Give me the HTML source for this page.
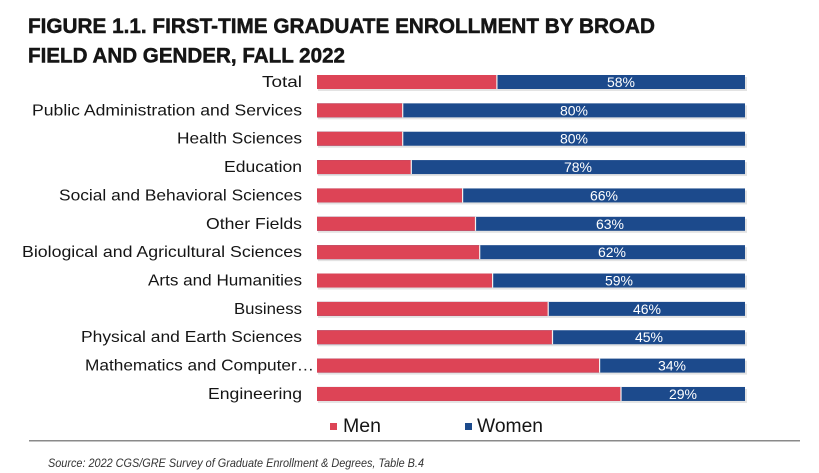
<!DOCTYPE html>
<html>
<head>
<meta charset="utf-8">
<style>
  html,body{margin:0;padding:0;background:#fff;}
  body{width:819px;height:473px;overflow:hidden;}
  svg{display:block;}
  text{font-family:"Liberation Sans",sans-serif;}
</style>
</head>
<body>
<svg width="819" height="473" viewBox="0 0 819 473" xmlns="http://www.w3.org/2000/svg">
  <rect width="819" height="473" fill="#ffffff"/>
  <!-- Title -->
  <text x="28" y="33" font-size="21.5" font-weight="bold" fill="#151515" stroke="#151515" stroke-width="0.5" textLength="627" lengthAdjust="spacingAndGlyphs">FIGURE 1.1. FIRST-TIME GRADUATE ENROLLMENT BY BROAD</text>
  <text x="28" y="62.5" font-size="21.5" font-weight="bold" fill="#151515" stroke="#151515" stroke-width="0.5" textLength="317" lengthAdjust="spacingAndGlyphs">FIELD AND GENDER, FALL 2022</text>

  <g font-size="16" fill="#151515">
    <text x="302" y="87" text-anchor="end" textLength="40" lengthAdjust="spacingAndGlyphs">Total</text>
    <text x="302" y="115.4" text-anchor="end" textLength="270" lengthAdjust="spacingAndGlyphs">Public Administration and Services</text>
    <text x="302" y="143.7" text-anchor="end" textLength="125" lengthAdjust="spacingAndGlyphs">Health Sciences</text>
    <text x="302" y="172.1" text-anchor="end" textLength="78" lengthAdjust="spacingAndGlyphs">Education</text>
    <text x="302" y="200.4" text-anchor="end" textLength="243" lengthAdjust="spacingAndGlyphs">Social and Behavioral Sciences</text>
    <text x="302" y="228.8" text-anchor="end" textLength="96" lengthAdjust="spacingAndGlyphs">Other Fields</text>
    <text x="302" y="257.2" text-anchor="end" textLength="280" lengthAdjust="spacingAndGlyphs">Biological and Agricultural Sciences</text>
    <text x="302" y="285.5" text-anchor="end" textLength="154" lengthAdjust="spacingAndGlyphs">Arts and Humanities</text>
    <text x="302" y="313.9" text-anchor="end" textLength="68" lengthAdjust="spacingAndGlyphs">Business</text>
    <text x="302" y="342.2" text-anchor="end" textLength="221" lengthAdjust="spacingAndGlyphs">Physical and Earth Sciences</text>
    <text x="314" y="370.6" text-anchor="end" textLength="229" lengthAdjust="spacingAndGlyphs">Mathematics and Computer…</text>
    <text x="302" y="398.96" text-anchor="end" textLength="94" lengthAdjust="spacingAndGlyphs">Engineering</text>
  </g>

  <g id="bars">
    <g fill="#d8d8d8" opacity="0.7">
      <rect x="318" y="77" width="429" height="14"/>
      <rect x="318" y="105.36" width="429" height="14"/>
      <rect x="318" y="133.72" width="429" height="14"/>
      <rect x="318" y="162.08" width="429" height="14"/>
      <rect x="318" y="190.44" width="429" height="14"/>
      <rect x="318" y="218.8" width="429" height="14"/>
      <rect x="318" y="247.16" width="429" height="14"/>
      <rect x="318" y="275.52" width="429" height="14"/>
      <rect x="318" y="303.88" width="429" height="14"/>
      <rect x="318" y="332.24" width="429" height="14"/>
      <rect x="318" y="360.6" width="429" height="14"/>
      <rect x="318" y="388.96" width="429" height="14"/>
    </g>
    <g fill="#1c4a8c">
      <rect x="317" y="75" width="428" height="14"/>
      <rect x="317" y="103.36" width="428" height="14"/>
      <rect x="317" y="131.72" width="428" height="14"/>
      <rect x="317" y="160.08" width="428" height="14"/>
      <rect x="317" y="188.44" width="428" height="14"/>
      <rect x="317" y="216.8" width="428" height="14"/>
      <rect x="317" y="245.16" width="428" height="14"/>
      <rect x="317" y="273.52" width="428" height="14"/>
      <rect x="317" y="301.88" width="428" height="14"/>
      <rect x="317" y="330.24" width="428" height="14"/>
      <rect x="317" y="358.6" width="428" height="14"/>
      <rect x="317" y="386.96" width="428" height="14"/>
    </g>
    <g fill="#dd4456">
      <rect x="317" y="75" width="179.8" height="14"/>
      <rect x="317" y="103.36" width="85.6" height="14"/>
      <rect x="317" y="131.72" width="85.6" height="14"/>
      <rect x="317" y="160.08" width="94.2" height="14"/>
      <rect x="317" y="188.44" width="145.5" height="14"/>
      <rect x="317" y="216.8" width="158.4" height="14"/>
      <rect x="317" y="245.16" width="162.6" height="14"/>
      <rect x="317" y="273.52" width="175.5" height="14"/>
      <rect x="317" y="301.88" width="231.1" height="14"/>
      <rect x="317" y="330.24" width="235.4" height="14"/>
      <rect x="317" y="358.6" width="282.5" height="14"/>
      <rect x="317" y="386.96" width="303.9" height="14"/>
    </g>
    <g fill="#f2f2f2">
      <rect x="496.3" y="75" width="1.2" height="14"/>
      <rect x="402.1" y="103.36" width="1.2" height="14"/>
      <rect x="402.1" y="131.72" width="1.2" height="14"/>
      <rect x="410.7" y="160.08" width="1.2" height="14"/>
      <rect x="462" y="188.44" width="1.2" height="14"/>
      <rect x="474.9" y="216.8" width="1.2" height="14"/>
      <rect x="479.1" y="245.16" width="1.2" height="14"/>
      <rect x="492" y="273.52" width="1.2" height="14"/>
      <rect x="547.6" y="301.88" width="1.2" height="14"/>
      <rect x="551.9" y="330.24" width="1.2" height="14"/>
      <rect x="599" y="358.6" width="1.2" height="14"/>
      <rect x="620.4" y="386.96" width="1.2" height="14"/>
    </g>
  </g>

  <g font-size="14" fill="#ffffff" text-anchor="middle">
    <text x="621" y="87">58%</text>
    <text x="574" y="115.4">80%</text>
    <text x="574" y="143.7">80%</text>
    <text x="578" y="172.1">78%</text>
    <text x="604" y="200.4">66%</text>
    <text x="610" y="228.8">63%</text>
    <text x="612" y="257.2">62%</text>
    <text x="619" y="285.5">59%</text>
    <text x="647" y="313.9">46%</text>
    <text x="649" y="342.2">45%</text>
    <text x="672" y="370.6">34%</text>
    <text x="683" y="399">29%</text>
  </g>

  <!-- Legend -->
  <rect x="330" y="423" width="7" height="7" fill="#dd4456"/>
  <text x="343" y="432" font-size="19" fill="#151515" textLength="38" lengthAdjust="spacingAndGlyphs">Men</text>
  <rect x="465" y="423" width="7" height="7" fill="#1c4a8c"/>
  <text x="477" y="432" font-size="19" fill="#151515" textLength="66" lengthAdjust="spacingAndGlyphs">Women</text>

  <rect x="29" y="440" width="771" height="1.5" fill="#8a8a8a"/>

  <text x="48" y="467" font-size="12" font-style="italic" fill="#333" textLength="376" lengthAdjust="spacingAndGlyphs">Source: 2022 CGS/GRE Survey of Graduate Enrollment &amp; Degrees, Table B.4</text>
</svg>
</body>
</html>
